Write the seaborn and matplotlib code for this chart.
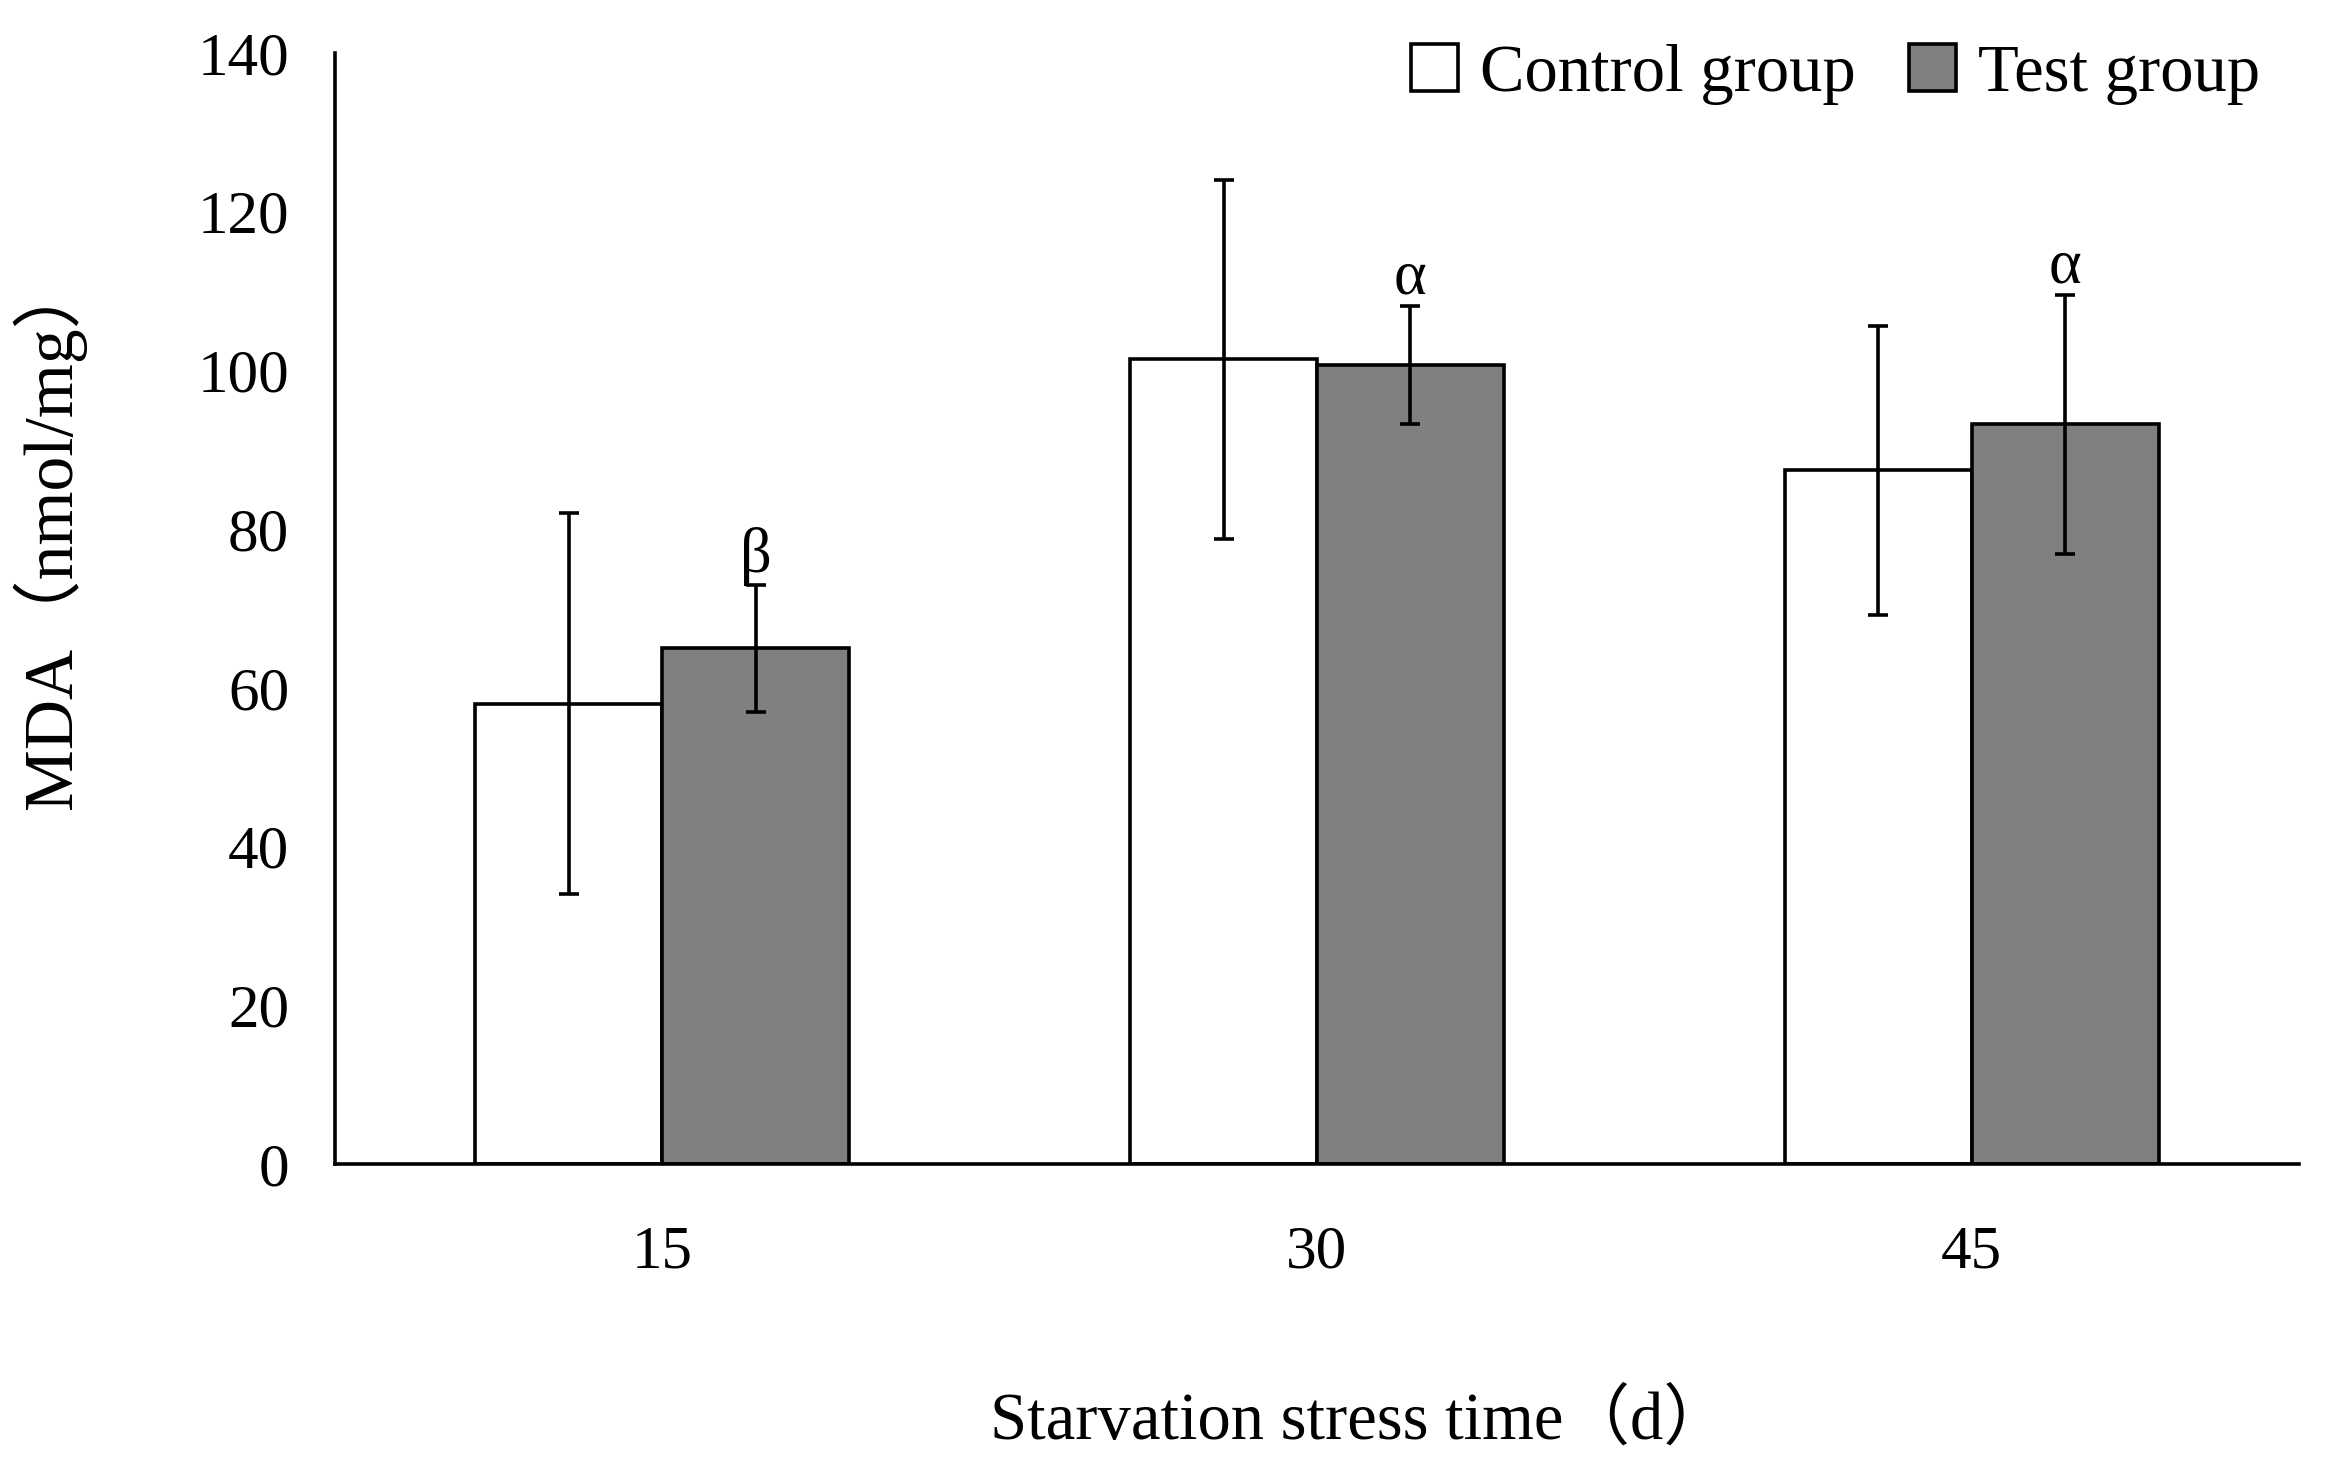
import matplotlib
matplotlib.use('Agg')
import matplotlib.pyplot as plt
import seaborn as sns
import pandas as pd

# values
days = ['15', '30', '45']
groups = ['Control group', 'Test group']
control_mean = [58.0, 101.4, 87.4]
control_sd = [24.0, 22.6, 18.2]
test_mean = [65.0, 100.7, 93.2]
test_sd = [8.0, 7.4, 16.3]
test_marks = ['β', 'α', 'α']

sns.set_style('white')
plt.rcParams['font.family'] = ['Liberation Serif', 'Noto Sans CJK SC']
plt.rcParams.update({
    'axes.linewidth': 2.6,
    'axes.edgecolor': 'black',
    'axes.labelcolor': 'black',
    'text.color': 'black',
    'xtick.color': 'black',
    'ytick.color': 'black',
})
LW = 2.6

df = pd.DataFrame({
    'day': days * 2,
    'group': [groups[0]] * 3 + [groups[1]] * 3,
    'mda': control_mean + test_mean,
})
sd = {groups[0]: control_sd, groups[1]: test_sd}

fig = plt.figure(figsize=(23.33, 14.65), dpi=100)
ax = fig.add_axes([0.1436, 0.2055, 0.8418, 0.7583])

sns.barplot(data=df, x='day', y='mda', hue='group', order=days, hue_order=groups,
            palette={groups[0]: 'white', groups[1]: '#808080'},
            edgecolor='black', linewidth=LW, width=0.571, errorbar=None,
            saturation=1, ax=ax)

# error bars and significance marks at the bar centres
for cont, grp in zip(ax.containers, groups):
    xs = [b.get_x() + b.get_width() / 2 for b in cont]
    ys = [b.get_height() for b in cont]
    ax.errorbar(xs, ys, yerr=sd[grp], fmt='none', ecolor='black',
                elinewidth=LW, capsize=7, capthick=LW, zorder=5)
    if grp == groups[1]:
        for x, y, e, m in zip(xs, ys, sd[grp], test_marks):
            ax.text(x, y + e + 1.6, m, ha='center', va='baseline', fontsize=45)

ax.set_ylim(0, 140)
ax.set_xlim(-0.5, 2.5)
ax.set_yticks(range(0, 141, 20))
ax.tick_params(axis='y', direction='in', length=19, width=LW, pad=33, labelsize=44)
ax.set_xticks([0, 1, 2], days)
ax.tick_params(axis='x', which='major', length=0, pad=44, labelsize=44)
ax.set_xticks([0.5, 1.5, 2.5], minor=True)
ax.tick_params(axis='x', which='minor', direction='in', length=18, width=LW)
sns.despine(ax=ax)

ax.set_xlabel('Starvation stress time（d）', fontsize=48, va='baseline')
ax.xaxis.set_label_coords(0.522, -0.2475)
ax.set_ylabel('MDA（nmol/mg）', fontsize=50, va='center', ha='center')
ax.yaxis.set_label_coords(-0.146, 0.568)

sns.move_legend(ax, 'upper right', bbox_to_anchor=(0.983, 0.993),
                bbox_transform=fig.transFigure, ncol=2, frameon=False,
                title='', fontsize=48, handlelength=0.7, handleheight=0.7,
                handletextpad=0.33, columnspacing=0.8, borderpad=0)

fig.savefig('out.png', dpi=100)
